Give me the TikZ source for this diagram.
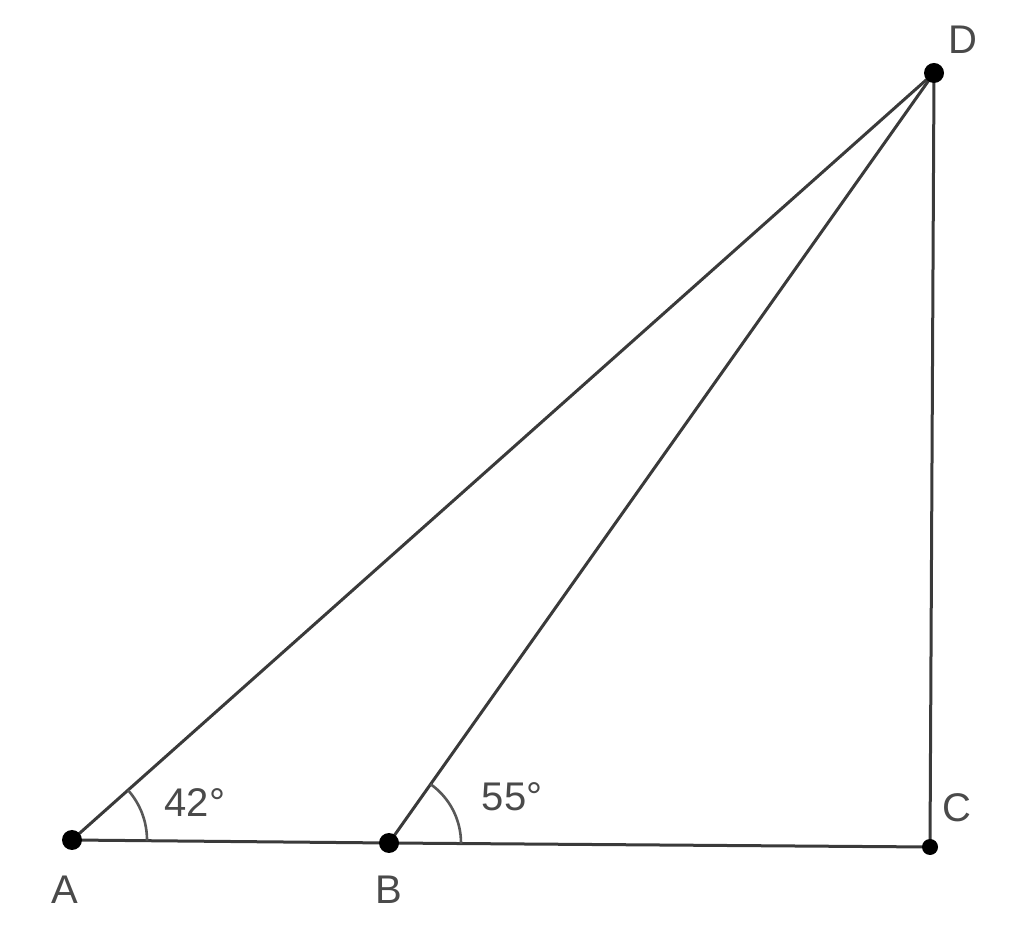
\documentclass[tikz,border=0pt]{standalone}
\usepackage{fontspec}
\setmainfont{Liberation Sans}
\definecolor{linegray}{HTML}{3A3A3A}
\definecolor{textgray}{HTML}{4A4A4A}
\begin{document}
\begin{tikzpicture}[x=1pt,y=1pt,
  seg/.style={draw=linegray,line width=3pt},
  anglearc/.style={draw=linegray!85,line width=2.6pt},
  pt/.style={circle,fill=black,inner sep=0pt,minimum size=20pt},
  ptsmall/.style={circle,fill=black,inner sep=0pt,minimum size=16pt},
  lbl/.style={text=textgray,font=\fontsize{40}{48}\selectfont,inner sep=0pt}]
\useasboundingbox (0,0) rectangle (1024,928);
\coordinate (A) at (72,88);
\coordinate (B) at (389,85);
\coordinate (C) at (930,81);
\coordinate (D) at (934,855);
\draw[seg] (A) -- (B) -- (C) -- (D);
\draw[seg] (A) -- (D);
\draw[seg] (B) -- (D);
\draw[anglearc] ([shift={(-0.5:75)}]A) arc[start angle=-0.5, end angle=41.7, radius=75];
\draw[anglearc] ([shift={(-0.5:72)}]B) arc[start angle=-0.5, end angle=54.7, radius=72];
\node[pt] (pA) at (A) {};
\node[pt] (pB) at (B) {};
\node[ptsmall] (pC) at (C) {};
\node[pt] (pD) at (D) {};
\node[lbl] (lA) at (65,38) {A};
\node[lbl] (lB) at (389,38) {B};
\node[lbl] (lC) at (957,120) {C};
\node[lbl] (lD) at (963,888) {D};
\node[lbl] (l42) at (195,125) {42°};
\node[lbl] (l55) at (512,131) {55°};
\end{tikzpicture}
\end{document}
